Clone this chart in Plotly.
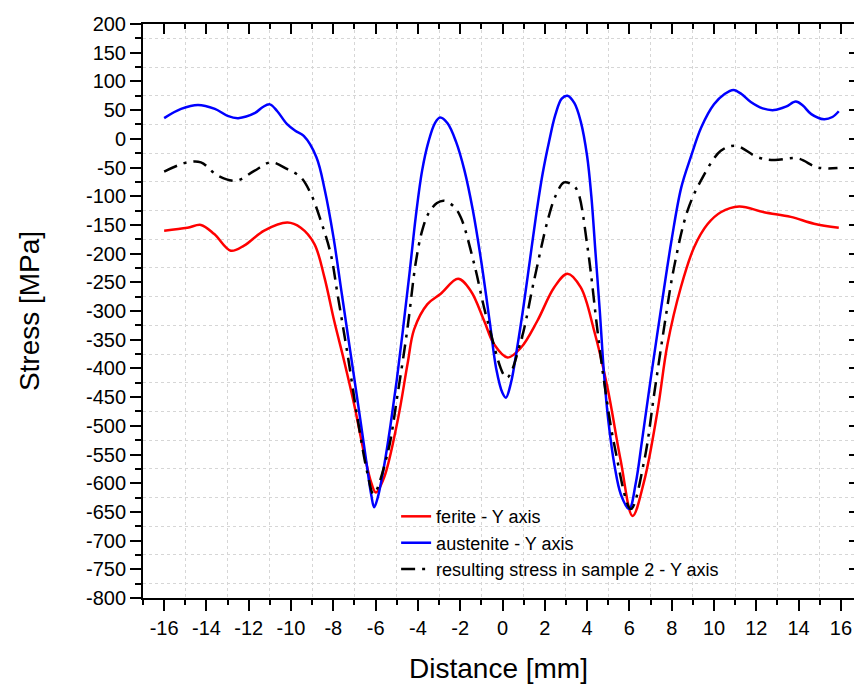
import plotly.graph_objects as go

# --- data ---
aus_x = [-16, -15.2, -14.4, -13.6, -13.0, -12.5, -11.7, -11.35, -11.0, -10.65, -10.2, -9.8, -9.4, -8.8, -8.4,
         -8.0, -7.6, -7.2, -6.8, -6.45, -6.2, -6.07, -5.9, -5.6, -5.3, -5.0, -4.7, -4.4, -4.1, -3.8,
         -3.5, -3.2, -2.95, -2.6, -2.2, -1.8, -1.4, -1.0, -0.6, -0.3, 0.0, 0.16, 0.4, 0.7, 1.0, 1.3,
         1.6, 1.9, 2.2, 2.5, 2.8, 3.07, 3.4, 3.7, 4.0, 4.2, 4.4, 4.6, 4.8, 5.0, 5.3, 5.6, 5.99, 6.3,
         6.6, 7.0, 7.5, 8.0, 8.45, 8.9, 9.4, 10.0, 10.5, 10.92, 11.3, 11.74, 12.3, 12.84, 13.4, 13.87,
         14.2, 14.6, 15.2, 15.6, 15.9]
aus_y = [36, 52, 59, 52, 40, 36, 45, 55, 60, 48, 26, 14, 5, -32, -90,
         -170, -270, -370, -470, -560, -622, -642, -625, -570, -500, -420, -330, -235, -135, -55,
         -5, 27, 37, 27, -5, -55, -125, -215, -320, -400, -443, -451, -425, -362, -290, -210,
         -130, -60, -5, 42, 70, 75, 62, 30, -30, -100, -200, -300, -410, -490, -570, -620, -645, -600,
         -525, -420, -295, -175, -85, -32, 20, 60, 78, 85, 78, 64, 53, 50, 56, 65,
         58, 43, 34, 38, 48]

fer_x = [-16, -14.9, -14.26, -13.63, -12.85, -12.22, -11.27, -10.17, -9.54, -8.9, -8.43, -7.96, -7.49,
         -7.02, -6.54, -6.2, -5.99, -5.6, -4.96, -4.49, -4.18, -3.55, -2.92, -2.1, -1.5, -0.87, -0.4,
         0.24, 0.87, 1.65, 2.44, 3.07, 3.7, 4.33, 4.96, 5.59, 6.15, 6.7, 7.33, 7.8, 8.43, 9.06, 9.69,
         10.32, 11.19, 12.37, 13.63, 14.73, 15.9]
fer_y = [-160, -155, -150, -166, -195, -186, -160, -146, -155, -183, -240, -317, -387,
         -462, -549, -600, -616, -590, -491, -392, -332, -288, -270, -244, -265, -317, -358,
         -381, -364, -317, -259, -235, -259, -334, -433, -561, -657, -596, -474, -358, -259, -189, -149,
         -128, -118, -128, -136, -148, -155]

res_x = [-16, -14.9, -14.26, -13.47, -12.6, -11.74, -10.95, -10.17, -9.54, -9.06, -8.59, -8.12, -7.8,
         -7.33, -6.86, -6.38, -6.1, -5.44, -4.96, -4.49, -4.1, -3.8, -3.5, -3.1, -2.76, -2.3, -1.97,
         -1.34, -0.71, 0.2, 0.87, 1.49, 2.13, 2.5, 2.91, 3.3, 3.55, 4.02, 4.49, 4.8, 5.28, 6.07, 6.7,
         7.17, 7.64, 8.11, 8.75, 9.38, 10.32, 11.03, 12.06, 12.84, 13.95, 14.9, 15.84]
res_y = [-57, -41, -41, -64, -73, -56, -41, -53, -67, -96, -143, -201, -271,
         -375, -486, -584, -619, -549, -445, -329, -215, -160, -130, -112, -108, -118, -137,
         -218, -317, -416, -352, -247, -143, -100, -76, -80, -91, -189, -334, -422, -532, -645, -561,
         -445, -329, -224, -125, -73, -21, -12, -32, -37, -34, -50, -51]

names = ["ferite - Y axis", "austenite - Y axis", "resulting stress in sample 2 - Y axis"]
x_ticks = [-16, -14, -12, -10, -8, -6, -4, -2, 0, 2, 4, 6, 8, 10, 12, 14, 16]
y_ticks = list(range(200, -801, -50))
x_range = [-17, 16.62]
y_range = [-800, 200]

FONT = "Liberation Sans, Arial, sans-serif"

fig = go.Figure()
fig.add_trace(go.Scatter(x=fer_x, y=fer_y, mode="lines", name=names[0],
                         line=dict(color="#ff0000", width=2.5, shape="spline", smoothing=1.0)))
fig.add_trace(go.Scatter(x=aus_x, y=aus_y, mode="lines", name=names[1],
                         line=dict(color="#0000ff", width=2.5, shape="spline", smoothing=1.0)))
fig.add_trace(go.Scatter(x=res_x, y=res_y, mode="lines", name=names[2],
                         line=dict(color="#000000", width=2.5, shape="spline", smoothing=1.0,
                                   dash="14px,7px,3px,7px")))

fig.update_layout(
    width=854, height=684,
    margin=dict(l=143, r=0, t=24, b=86),
    paper_bgcolor="white", plot_bgcolor="white",
    font=dict(family=FONT, color="black", size=20),
    showlegend=True,
    legend=dict(x=0.356, y=0.174, xanchor="left", yanchor="top",
                bgcolor="rgba(0,0,0,0)", font=dict(size=18, family=FONT),
                tracegroupgap=0),
    xaxis=dict(range=x_range, tickvals=x_ticks, ticktext=[str(v) for v in x_ticks],
               showgrid=False, zeroline=False,
               showline=True, linecolor="black", linewidth=2,
               ticks="outside", ticklen=11, tickwidth=2, tickcolor="black",
               minor=dict(tick0=1, dtick=2, ticks="outside", ticklen=5, tickwidth=2, tickcolor="black",
                          showgrid=True, gridcolor="#d6d6d6", griddash="dot", gridwidth=1),
               tickfont=dict(size=20), automargin=False,
               title=dict(text="Distance [mm]", font=dict(size=28), standoff=21)),
    xaxis2=dict(range=x_range, overlaying="x", side="top", anchor="y", dtick=2, tick0=0,
                showgrid=False, zeroline=False, showline=True, linecolor="black", linewidth=2,
                ticks="inside", ticklen=10, tickwidth=2, tickcolor="black",
                minor=dict(tick0=1, dtick=2, ticks="inside", ticklen=5, tickwidth=2, tickcolor="black"),
                showticklabels=False, automargin=False),
    yaxis=dict(range=y_range, tickvals=y_ticks, ticktext=[str(v) for v in y_ticks],
               showgrid=False, zeroline=False,
               showline=True, linecolor="black", linewidth=2,
               ticks="outside", ticklen=11, tickwidth=2, tickcolor="black",
               minor=dict(tick0=25, dtick=50, ticks="outside", ticklen=6, tickwidth=2, tickcolor="black",
                          showgrid=True, gridcolor="#d6d6d6", griddash="dot", gridwidth=1),
               tickfont=dict(size=20), automargin=False,
               title=dict(text="Stress [MPa]", font=dict(size=28), standoff=38)),
    yaxis2=dict(range=y_range, overlaying="y", side="right", anchor="x", dtick=50, tick0=0,
                showgrid=False, zeroline=False, showline=False,
                ticks="inside", ticklen=5, tickwidth=2, tickcolor="black",
                showticklabels=False, automargin=False),
)

# invisible helper trace so the top/right axes render
fig.add_trace(go.Scatter(x=[0], y=[0], xaxis="x2", yaxis="y2", mode="markers",
                         marker=dict(opacity=0), showlegend=False, hoverinfo="skip"))

fig.write_html("out.html")
